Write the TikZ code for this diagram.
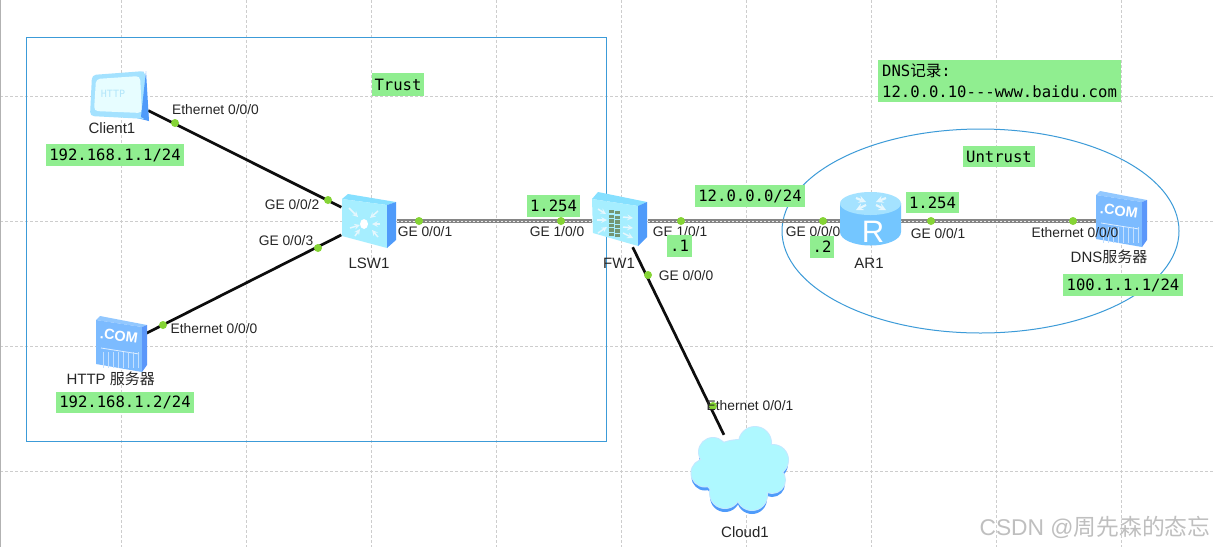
\documentclass[tikz,border=0pt]{standalone}
\usepackage{fontspec}
\setmainfont{Liberation Sans}
\newfontfamily\cjk{Noto Sans CJK SC}
\newfontfamily\ipfont{DejaVu Sans Mono}
\definecolor{ipgreen}{HTML}{90EE90}
\definecolor{portgreen}{HTML}{85D435}
\definecolor{zoneblue}{HTML}{3C9BD8}
\definecolor{gridgray}{HTML}{CDCDCD}
\definecolor{cubetop}{HTML}{86E0FF}
\definecolor{cubefront}{HTML}{A6EEFF}
\definecolor{cubeside}{HTML}{4F9BFA}
\definecolor{routertop}{HTML}{A4E2FF}
\definecolor{routerbody}{HTML}{74C6FF}
\definecolor{srvfront}{HTML}{7CBBFF}
\definecolor{srvtop}{HTML}{92C8FF}
\definecolor{srvside}{HTML}{5B97FA}
\definecolor{cloudfill}{HTML}{AEF8FF}
\definecolor{cloudedge}{HTML}{C4E8FF}
\newcommand{\cloudlobes}{(755,443) circle (16) (713,452) circle (14) (773,460) circle (15)
  (705,473) circle (13.5) (725,493) circle (15) (752,495) circle (15) (772,480) circle (13)
  (740,470) ellipse (38 and 30)}
\tikzset{
  comserver/.pic={
    \fill[srvtop] (-21,-28) -- (26,-19) -- (21,-17) -- (-25,-24) -- cycle;
    \fill[srvfront] (-25,-24) -- (21,-17) -- (21,28) -- (-25,20) -- cycle;
    \fill[srvside] (21,-17) -- (26,-19) -- (26,21) -- (21,28) -- cycle;
    \node[rotate=-8, text=white, font=\fontsize{14.5}{15}\selectfont\bfseries] (comtext) at (-2,-8) {.COM};
    \draw[white!75!srvfront, line width=0.8pt] (-20,4) -- (18,10);
    \foreach \i in {-18,-13,...,17}
      \draw[white!55!srvfront, line width=1pt] (\i,8) -- (\i,24);
  }
}
\begin{document}
\begin{tikzpicture}[x=1pt, y=-1pt,
  devicebox/.style 2 args={inner sep=0pt, minimum width=#1pt, minimum height=#2pt},
  ipbox/.style 2 args={fill=ipgreen, inner sep=0pt, minimum width=#1pt, minimum height=#2pt,
    font=\fontsize{15.6}{21}\selectfont\ipfont},
  portlabel/.style={inner sep=0pt, font=\fontsize{13.8}{15}\selectfont, text=black!85},
  namelabel/.style={inner sep=0pt, font=\fontsize{15}{16}\selectfont, text=black!85},
  port/.style={circle, fill=portgreen, inner sep=0pt, minimum size=8pt},
  griddash/.style={gridgray, line width=0.8pt, dash pattern=on 3pt off 2pt},
  zone/.style={zoneblue, line width=1pt},
  cable/.style={black!95, line width=2.7pt},
  fiber/.style={draw=black!48, line width=3.4pt,
    postaction={draw=black!8, line width=1pt, dash pattern=on 2pt off 2pt}},
  arrowmark/.style={white!90!cyan, line width=1.5pt, -stealth}]
  \useasboundingbox (0,0) rectangle (1215,547);
  \fill[white] (0,0) rectangle (1215,547);

  % grid
  \foreach \gx in {121,246,371,496,621,746,871,996,1121}
    \draw[griddash] (\gx,0) -- (\gx,547);
  \foreach \gy in {96,221,346,471}
    \draw[griddash] (0,\gy) -- (1215,\gy);
  \draw[black!30, line width=1.4pt] (0.7,0) -- (0.7,547);

  % zones
  \draw[zone] (26,37) rectangle (606,441);
  \draw[zone] (980.5,231) ellipse (198.5 and 102);

  % devices
  \node[devicebox={58}{50}] (client) at (119,96) {};
  \node[devicebox={55}{52}] (lsw) at (369,221) {};
  \node[devicebox={50}{56}] (http) at (121,346) {};
  \node[devicebox={55}{52}] (fw) at (620,221) {};
  \node[devicebox={60}{52}] (ar) at (870,221) {};
  \node[devicebox={50}{52}] (dns) at (1121,221) {};
  \node[devicebox={104}{70}] (cloud) at (741,470) {};

  % links
  \draw[cable] (client) -- (lsw);
  \draw[cable] (http) -- (lsw);
  \draw[cable] (fw) -- (cloud);
  \draw[fiber] (lsw) -- (fw);
  \draw[fiber] (fw) -- (ar);
  \draw[fiber] (ar) -- (dns);

  % client icon
  \fill[cubeside] (143,71) -- (149,121) -- (137,118) -- cycle;
  \fill[routertop, rounded corners=4pt] (92,75) -- (145,71) -- (147,119) -- (90,116) -- cycle;
  \fill[cloudfill!30!white, rounded corners=4pt] (96,79) -- (140,76) -- (142,113) -- (94,111) -- cycle;
  \fill[cubeside] (146,71) -- (149,121) -- (141,117) -- cycle;
  \node[text=cyan!30!white, font=\fontsize{10}{10}\selectfont\ipfont] (clienttext) at (113,94) {HTTP};

  % switch icon
  \fill[cubetop] (348,194) -- (396,202) -- (387,205) -- (342,199) -- cycle;
  \fill[cubefront] (342,199) -- (387,205) -- (387,248) -- (342,236) -- cycle;
  \fill[cubeside] (387,205) -- (396,202) -- (396,240) -- (387,248) -- cycle;
  \draw[arrowmark] (349,208) -- (358,217);
  \draw[arrowmark] (378,211) -- (370,218);
  \draw[arrowmark] (350,228) -- (360,225);
  \draw[arrowmark] (378,237) -- (372,230);
  \draw[arrowmark] (355,236) -- (360,229);
  \draw[arrowmark] (380,224) -- (372,224);
  \fill[white] (364,224) ellipse (4 and 5);

  % firewall icon
  \fill[cubetop] (598,192) -- (647,202) -- (638,206) -- (592,199) -- cycle;
  \fill[cubefront] (592,199) -- (638,206) -- (638,246) -- (593,233) -- cycle;
  \fill[cubeside] (638,206) -- (647,202) -- (647,237) -- (638,246) -- cycle;
  \foreach \r in {0,...,5} {
    \fill[green!25!black!55] (609,{210+\r*4.6}) rectangle +(5,3.4);
    \fill[green!25!black!55] (615,{211+\r*4.6}) rectangle +(5,3.4);
  }
  \draw[arrowmark] (598,209) -- (606,214);
  \draw[arrowmark] (597,220) -- (607,220);
  \draw[arrowmark] (598,233) -- (607,227);
  \draw[arrowmark] (623,217) -- (633,218);
  \draw[arrowmark] (623,227) -- (633,228);
  \draw[arrowmark] (623,233) -- (633,238);

  % router icon
  \fill[routerbody] (840,203) -- (840,232) arc[start angle=180, end angle=360, x radius=30.5, y radius=-13.5]
    -- (901,203) -- cycle;
  \fill[routertop] (870.5,203.5) ellipse (30.5 and 11.5);
  \draw[arrowmark, line width=2.2pt] (856,198) -- (866,202);
  \draw[arrowmark, line width=2.2pt] (886,198) -- (876,202);
  \draw[arrowmark, line width=2.2pt] (866,205) -- (856,210);
  \draw[arrowmark, line width=2.2pt] (876,205) -- (886,210);
  \node[text=white, font=\fontsize{31}{31}\selectfont] (routertext) at (873,232) {R};

  % server icons
  \path (1121,219) pic {comserver};
  \path (121,344) pic {comserver};

  % cloud icon
  \fill[cubeside, yshift=-4pt] \cloudlobes;
  \draw[cloudedge, line width=2pt] \cloudlobes;
  \fill[cloudfill] \cloudlobes;

  % ports
  \node[port] (p1) at (175,123) {};
  \node[port] (p2) at (328,200) {};
  \node[port] (p3) at (318,248) {};
  \node[port] (p4) at (163,325) {};
  \node[port] (p5) at (419,221) {};
  \node[port] (p6) at (561,221) {};
  \node[port] (p7) at (681,221) {};
  \node[port] (p8) at (823,221) {};
  \node[port] (p9) at (931,221) {};
  \node[port] (p10) at (1073,221) {};
  \node[port] (p11) at (648,275) {};
  \node[port] (p12) at (713,406) {};

  % port and device labels
  \node[portlabel] (l1) at (215.5,110) {Ethernet 0/0/0};
  \node[portlabel] (l2) at (292,205) {GE 0/0/2};
  \node[portlabel] (l3) at (286,241) {GE 0/0/3};
  \node[portlabel] (l4) at (214,329) {Ethernet 0/0/0};
  \node[portlabel] (l5) at (425,232) {GE 0/0/1};
  \node[portlabel] (l6) at (557,232) {GE 1/0/0};
  \node[portlabel] (l7) at (680,232) {GE 1/0/1};
  \node[portlabel] (l8) at (813,232) {GE 0/0/0};
  \node[portlabel] (l9) at (938,234) {GE 0/0/1};
  \node[portlabel] (l10) at (1075,233) {Ethernet 0/0/0};
  \node[portlabel] (l11) at (686,276) {GE 0/0/0};
  \node[portlabel] (l12) at (750,406) {Ethernet 0/0/1};
  \node[namelabel] (n1) at (112,128) {Client1};
  \node[namelabel] (n2) at (369,263) {LSW1};
  \node[namelabel] (n3) at (110.7,379) {HTTP {\cjk 服务器}};
  \node[namelabel] (n4) at (619,263) {FW1};
  \node[namelabel] (n5) at (869,263) {AR1};
  \node[namelabel] (n6) at (1109,257) {DNS{\cjk 服务器}};
  \node[namelabel] (n7) at (745,532) {Cloud1};

  % address boxes
  \node[ipbox={52}{23}] (trust) at (398,84.5) {Trust};
  \node[ipbox={138}{22}] (ipclient) at (115,155) {192.168.1.1/24};
  \node[ipbox={138}{21}] (iphttp) at (125,402.5) {192.168.1.2/24};
  \node[ipbox={53}{22}] (gwleft) at (553.5,206) {1.254};
  \node[ipbox={110}{22}] (netlink) at (750,196) {12.0.0.0/24};
  \node[ipbox={25}{22}] (fwdot) at (679.5,246) {.1};
  \node[ipbox={24}{22}] (ardot) at (822,247) {.2};
  \node[ipbox={243}{42}, align=left] (record) at (999.5,81) {DNS{\cjk 记录}:\\12.0.0.10---www.baidu.com};
  \node[ipbox={72}{21}] (untrust) at (999,156.5) {Untrust};
  \node[ipbox={53}{21}] (gwright) at (932.5,202.5) {1.254};
  \node[ipbox={120}{22}] (ipdns) at (1123,285) {100.1.1.1/24};

  % watermark
  \node[text=black!25, inner sep=0pt, font=\fontsize{22.8}{23}\selectfont] (mark) at (1095,527) {CSDN @{\cjk 周先森的态忘}};
\end{tikzpicture}
\end{document}
